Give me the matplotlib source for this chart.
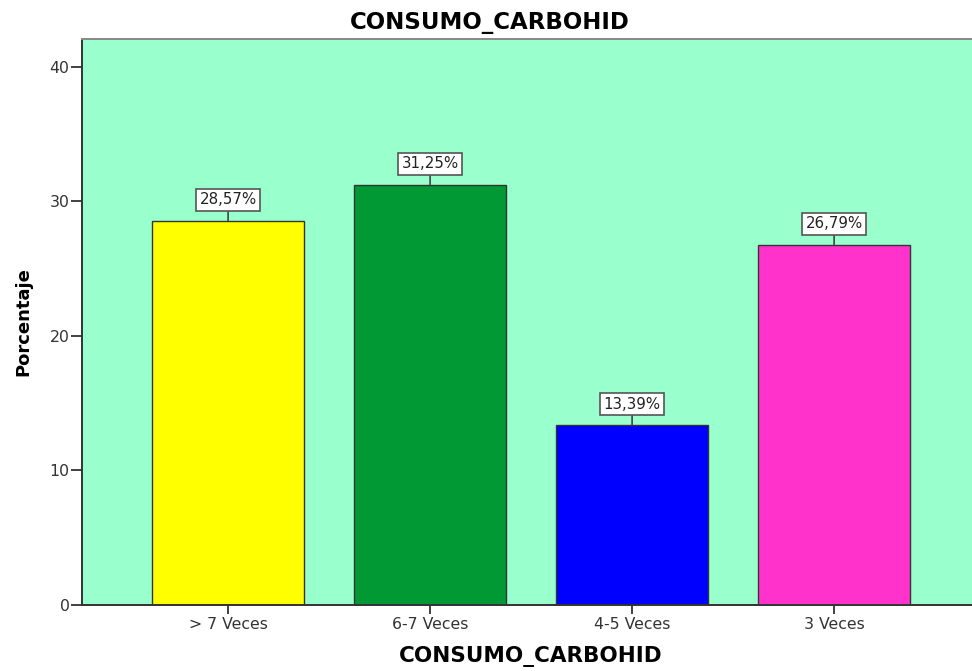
import matplotlib
matplotlib.use("Agg")
import matplotlib.pyplot as plt

# data
categorias = ["> 7 Veces", "6-7 Veces", "4-5 Veces", "3 Veces"]
porcentajes = [28.57, 31.25, 13.39, 26.79]
etiquetas = ["28,57%", "31,25%", "13,39%", "26,79%"]
colores = ["#FFFF00", "#009933", "#0000FF", "#FF33CC"]
yticks = [0, 10, 20, 30, 40]

plt.rcParams["font.family"] = ["DejaVu Sans"]

fig = plt.figure(figsize=(9.72, 6.71), dpi=100)
fig.patch.set_facecolor("white")
ax = fig.add_axes([0.0844, 0.0984, 0.924, 0.8439])
ax.set_facecolor("#99FFCC")

x = list(range(len(categorias)))
ax.bar(x, porcentajes, width=0.75, color=colores, edgecolor="#333333", linewidth=1.0, zorder=2)

# value boxes above the bars
for xi, v, lab in zip(x, porcentajes, etiquetas):
    ax.annotate(lab, xy=(xi, v), xytext=(0, 15), textcoords="offset points",
                ha="center", va="center", fontsize=10.8, color="#222222",
                bbox=dict(boxstyle="square,pad=0.25", fc="white", ec="#555555", lw=1.2),
                arrowprops=dict(arrowstyle="-", color="#444444", lw=1.2, shrinkA=0, shrinkB=0),
                zorder=3)

ax.set_xlim(-0.723, 3.723)
ax.set_ylim(0, 42.1)
ax.set_xticks(x)
ax.set_xticklabels(categorias)
ax.set_yticks(yticks)
ax.tick_params(axis="both", direction="out", width=1.3, color="#333333",
               labelsize=11.3, labelcolor="#333333")
ax.tick_params(axis="y", length=8, pad=1)
ax.tick_params(axis="x", length=6.5, pad=2)

for s in ["left", "bottom"]:
    ax.spines[s].set_color("#333333")
    ax.spines[s].set_linewidth(1.4)
ax.spines["top"].set_color("#888888")
ax.spines["top"].set_linewidth(1.4)
ax.spines["right"].set_visible(False)

ax.set_xlabel("CONSUMO_CARBOHID", fontsize=15.5, fontweight="bold", va="center")
ax.xaxis.set_label_coords(0.5, -(657 - 605) / 566)
ax.set_ylabel("Porcentaje", fontsize=13, fontweight="bold", va="center")
ax.yaxis.set_label_coords(-(82 - 23) / 898, 0.5)
fig.text(490 / 972, 1 - 22 / 671, "CONSUMO_CARBOHID", ha="center", va="center",
         fontsize=16.5, fontweight="bold")

fig.savefig("out.png", dpi=100)
